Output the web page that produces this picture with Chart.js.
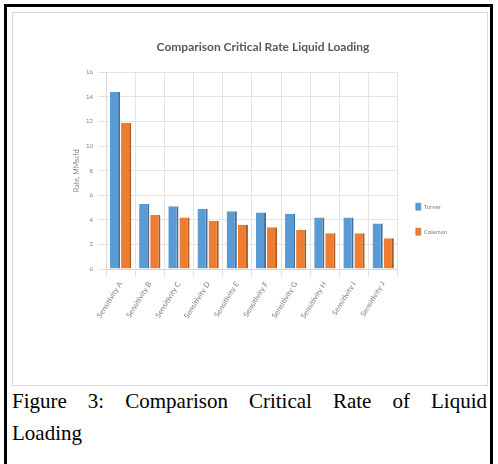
<!DOCTYPE html>
<html>
<head>
<meta charset="utf-8">
<script src="https://cdn.jsdelivr.net/npm/chart.js@4"></script>
<style>
  html, body { margin: 0; padding: 0; background: #fff; }
  body { width: 498px; height: 464px; position: relative; overflow: hidden; }
  #frame {
    position: absolute; left: 4px; top: 4px; width: 489px; height: 470px;
    border: 3px solid #000; border-bottom: none; box-sizing: border-box;
  }
  #box {
    position: absolute; left: 12px; top: 12px; width: 476px; height: 374px;
    border: 1px solid #d9d9d9; box-sizing: border-box; background: #fff;
  }
  #chart { position: absolute; left: 0; top: 0; filter: blur(0.4px); }
  .cap {
    position: absolute; left: 12px; width: 475px;
    font-family: "Liberation Serif", "Times New Roman", serif; font-size: 21px;
    line-height: 24px; color: #000; white-space: nowrap;
  }
  #cap1 { top: 389px; text-align: justify; text-align-last: justify; white-space: normal; }
  #cap2 { top: 421px; }
</style>
</head>
<body>
<div id="frame"></div>
<div id="box"><canvas id="chart" width="474" height="372"></canvas></div>
<div class="cap" id="cap1">Figure 3: Comparison Critical Rate of Liquid</div>
<div class="cap" id="cap2">Loading</div>
<script>
// Critical gas rate for each sensitivity case, two correlations
const categories = ['Sensitivity A', 'Sensitivity B', 'Sensitivity C', 'Sensitivity D', 'Sensitivity E',
                    'Sensitivity F', 'Sensitivity G', 'Sensitivity H', 'Sensitivity I', 'Sensitivity J'];
const turner  = [14.4, 5.3, 5.1, 4.9, 4.7, 4.6, 4.5, 4.2, 4.2, 3.7];
const coleman = [11.9, 4.4, 4.2, 3.9, 3.6, 3.4, 3.2, 2.9, 2.9, 2.5];
const seriesNames = ['Turner', 'Coleman'];
const yTicks = [0, 2, 4, 6, 8, 10, 12, 14, 16];

const grey = '#7f7f7f';
const tiny = { family: 'Lato, "Open Sans", sans-serif', size: 6 };

new Chart(document.getElementById('chart'), {
  type: 'bar',
  data: {
    labels: categories,
    datasets: [
      { label: seriesNames[0], data: turner,  backgroundColor: '#5b9bd5', borderColor: '#41719c', borderWidth: { right: 2 } },
      { label: seriesNames[1], data: coleman, backgroundColor: '#ed7d31', borderColor: '#ae5a21', borderWidth: { right: 2 } }
    ]
  },
  options: {
    responsive: false,
    animation: false,
    layout: { padding: { left: 56, right: 30, top: 0, bottom: 14 } },
    datasets: { bar: { categoryPercentage: 0.76, barPercentage: 0.92 } },
    plugins: {
      title: {
        display: true,
        text: 'Comparison Critical Rate Liquid Loading',
        color: '#595959',
        font: { family: 'Lato, "Open Sans", sans-serif', size: 12, weight: 'bold' },
        padding: { top: 27, bottom: 18 }
      },
      legend: {
        position: 'right',
        align: 'start',
        title: { display: true, text: ' ', padding: { top: 0, bottom: 165 }, font: { size: 6 } },
        labels: { boxWidth: 5, boxHeight: 7, padding: 18, color: grey, font: tiny }
      },
      tooltip: { enabled: false }
    },
    scales: {
      x: {
        grid: { color: '#e4e4e4', offset: true },
        border: { color: '#d9d9d9' },
        ticks: { color: grey, font: { family: 'Lato, "Open Sans", sans-serif', size: 7.5 }, minRotation: 58, maxRotation: 58, padding: 3 },
        afterFit: (s) => { s.height = 102; }
      },
      y: {
        min: 0, max: 16,
        afterBuildTicks: (s) => { s.ticks = yTicks.map(v => ({ value: v })); },
        grid: { color: '#e4e4e4' },
        border: { color: '#d9d9d9' },
        ticks: { color: grey, font: tiny, padding: 5 },
        title: { display: true, text: 'Rate, MMscfd', color: grey, font: { family: 'Lato, "Open Sans", sans-serif', size: 7 } },
        afterFit: (s) => { s.width = 37; }
      }
    }
  }
});
</script>
</body>
</html>
